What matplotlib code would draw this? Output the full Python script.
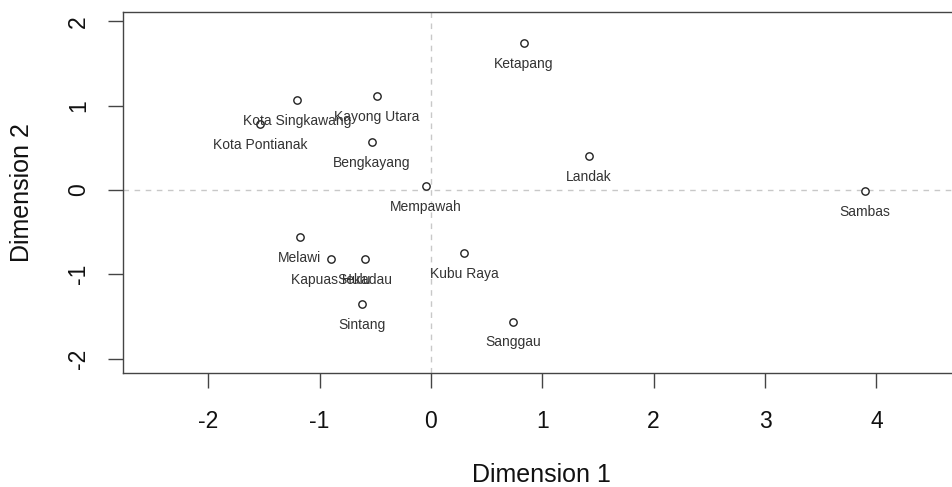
import matplotlib
matplotlib.use("Agg")
import matplotlib.pyplot as plt

# MDS coordinates of the regencies / cities
names = ["Ketapang", "Kota Singkawang", "Kayong Utara", "Kota Pontianak",
         "Bengkayang", "Landak", "Mempawah", "Sambas", "Melawi",
         "Kapuas Hulu", "Sekadau", "Kubu Raya", "Sintang", "Sanggau"]
dim1 = [0.835, -1.203, -0.485, -1.535, -0.530, 1.418, -0.045, 3.896,
        -1.176, -0.898, -0.590, 0.300, -0.620, 0.736]
dim2 = [1.744, 1.068, 1.115, 0.783, 0.569, 0.403, 0.047, -0.012,
        -0.558, -0.818, -0.818, -0.750, -1.350, -1.560]

xticks = [-2, -1, 0, 1, 2, 3, 4]
yticks = [-2, -1, 0, 1, 2]

plt.rcParams["font.family"] = ["Liberation Sans", "DejaVu Sans"]

fig = plt.figure(figsize=(9.52, 4.87), dpi=100)
ax = fig.add_axes([0.1292, 0.2341, 0.879, 0.7413])

ax.set_xlim(-2.765, 4.749)
ax.set_ylim(-2.17, 2.11)

ax.axhline(0, color="#c8c8c8", lw=1, ls=(0, (4, 4)), zorder=1)
ax.axvline(0, color="#c8c8c8", lw=1, ls=(0, (4, 4)), zorder=1)

ax.scatter(dim1, dim2, s=28, facecolors="white", edgecolors="#222222",
           linewidths=1.0, zorder=3)
for n, x, y in zip(names, dim1, dim2):
    ax.annotate(n, (x, y), xytext=(0, -15), textcoords="offset points",
                ha="center", va="center", fontsize=10, color="#333333",
                zorder=4)

ax.set_xticks(xticks)
ax.set_yticks(yticks)
ax.set_xticklabels([str(t) for t in xticks])
ax.set_yticklabels([str(t) for t in yticks], rotation=90, va="center")
ax.tick_params(axis="both", direction="out", length=10.5, width=1,
               color="#444444", labelsize=16.5, labelcolor="#111111")
ax.tick_params(axis="x", pad=16.5)
ax.tick_params(axis="y", pad=13)

for s in ax.spines.values():
    s.set_color("#444444")
    s.set_linewidth(1)

ax.set_xlabel("Dimension 1", fontsize=18, labelpad=21, color="#111111")
ax.set_ylabel("Dimension 2", fontsize=18, labelpad=24, color="#111111")

fig.savefig("out.png", dpi=100)
